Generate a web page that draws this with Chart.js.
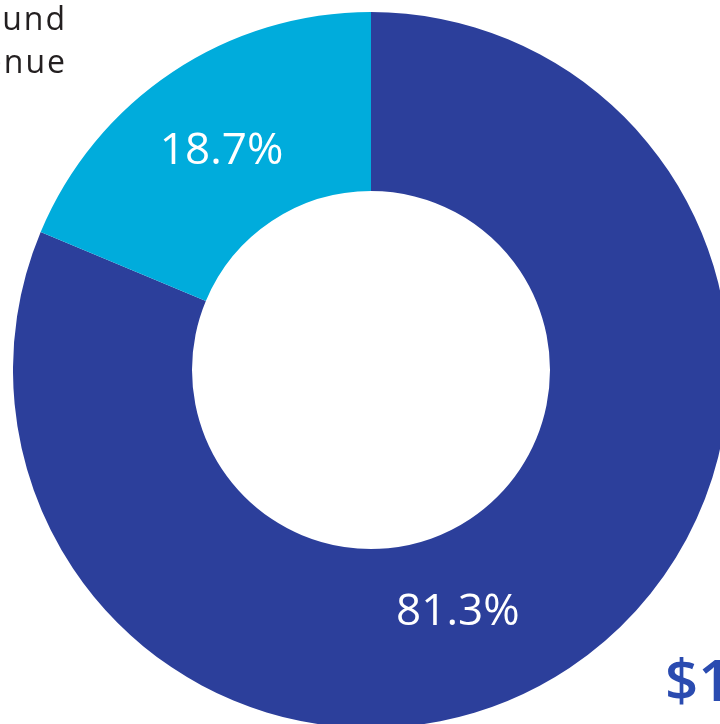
<!DOCTYPE html>
<html>
<head>
<meta charset="utf-8">
<script src="https://cdn.jsdelivr.net/npm/chart.js@4.4.1/dist/chart.umd.min.js"></script>
<style>
  html, body { margin: 0; padding: 0; background: #ffffff; overflow: hidden; width: 720px; height: 724px; }
  #wrap { position: absolute; left: 13px; top: 12px; width: 716px; height: 716px; }
  .side { position: absolute; font-family: 'Open Sans', sans-serif; color: #231f20; }
  #legendText { right: 653px; top: -4px; font-size: 32px; line-height: 43px; letter-spacing: 2px; text-align: right; white-space: nowrap; }
  #total { left: 665px; top: 639px; font-size: 58px; font-weight: 600; color: #2a4bb0; white-space: nowrap; }
</style>
</head>
<body>
<div id="wrap"><canvas id="donut" width="716" height="716"></canvas></div>
<div id="legendText" class="side">Fund<br>Revenue</div>
<div id="total" class="side">$1</div>
<script>
// Revenue split (percent)
const segments = ["Other", "Fund"];
const shares = [81.3, 18.7];
const segmentColors = ["#2c3f9b", "#00acdc"];
const shareLabels = ["81.3%", "18.7%"];
// where each label sits inside its slice: angle clockwise from top (deg), shift from mid-ring (px)
const labelAngles = [160.3, 325.6];
const labelShift = [-11, -4];

const LABEL_FONT = "'Open Sans', sans-serif";

// writes the percent text inside each slice
const sliceLabels = {
    id: "sliceLabels",
    afterDatasetsDraw(chart) {
        const ctx = chart.ctx;
        const meta = chart.getDatasetMeta(0);
        ctx.save();
        ctx.fillStyle = "#ffffff";
        ctx.font = "400 44px " + LABEL_FONT;
        ctx.textAlign = "center";
        ctx.textBaseline = "middle";
        meta.data.forEach((arc, i) => {
            const r = (arc.innerRadius + arc.outerRadius) / 2 + labelShift[i];
            const a = labelAngles[i] * Math.PI / 180;
            ctx.fillText(shareLabels[i], arc.x + r * Math.sin(a), arc.y - r * Math.cos(a));
        });
        ctx.restore();
    },
};

new Chart(document.getElementById("donut"), {
    type: "doughnut",
    data: {
        labels: segments,
        datasets: [{
            data: shares,
            backgroundColor: segmentColors,
            borderWidth: 0,
        }],
    },
    options: {
        responsive: false,
        animation: false,
        cutout: "50%",
        layout: { padding: 0 },
        plugins: {
            legend: { display: false },
            tooltip: { enabled: false },
        },
    },
    plugins: [sliceLabels],
});
</script>
</body>
</html>
